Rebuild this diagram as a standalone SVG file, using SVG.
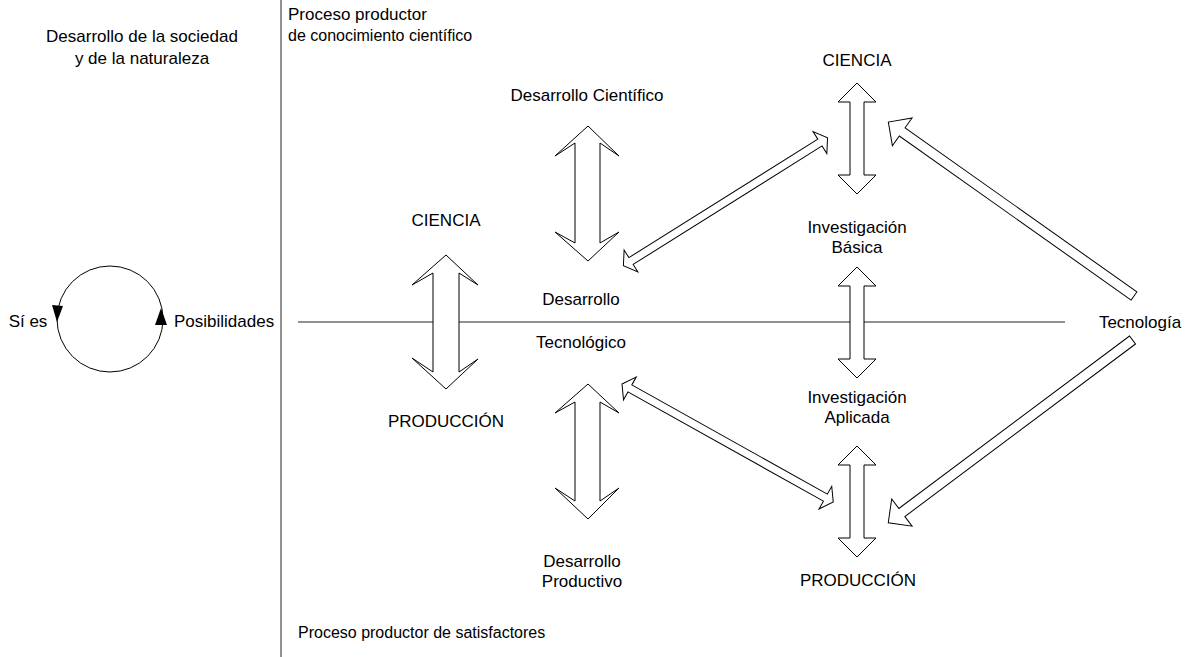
<svg xmlns="http://www.w3.org/2000/svg" width="1188" height="657" viewBox="0 0 1188 657">
<style>
text{font-family:"Liberation Sans",Arial,sans-serif;font-size:17px;fill:#000}
.s{font-size:16px}
.c{text-anchor:middle}
.blk{fill:#fff;stroke:#000;stroke-width:1;stroke-linejoin:miter}
.ln{stroke:#222;stroke-width:1;fill:none}
</style>
<rect width="1188" height="657" fill="#fff"/>
<g id="dividers">
<line class="ln" x1="281" y1="0" x2="281" y2="657"/>
<line class="ln" x1="298" y1="322" x2="1065" y2="322"/>
</g>
<g id="cycle">
<circle cx="110" cy="319" r="53" fill="none" stroke="#000" stroke-width="1"/>
<polygon points="52,305 63,306 57,322" fill="#000"/>
<polygon points="155,325 167,325 161,308" fill="#000"/>
<text x="28" y="327" class="c">Sí es</text>
<text x="174" y="327">Posibilidades</text>
</g>
<g id="labels">
<text x="142" y="42" class="c">Desarrollo de la sociedad</text>
<text x="142" y="64" class="c">y de la naturaleza</text>
<text x="288" y="20">Proceso productor</text>
<text x="288" y="41" class="s">de conocimiento científico</text>
<text x="298" y="638" class="s">Proceso productor de satisfactores</text>
</g>
<g id="node-ciencia-left"><text x="446" y="226" class="c">CIENCIA</text></g>
<g id="node-produccion-left"><text x="446" y="427" class="c">PRODUCCIÓN</text></g>
<g id="node-des-cientifico"><text x="587" y="101" class="c">Desarrollo Científico</text></g>
<g id="node-des-tecnologico"><text x="581" y="305" class="c">Desarrollo</text><text x="581" y="348" class="c">Tecnológico</text></g>
<g id="node-des-productivo"><text x="582" y="567" class="c">Desarrollo</text><text x="582" y="587" class="c">Productivo</text></g>
<g id="node-ciencia-right"><text x="857" y="66" class="c">CIENCIA</text></g>
<g id="node-inv-basica"><text x="857" y="233" class="c">Investigación</text><text x="857" y="253" class="c">Básica</text></g>
<g id="node-inv-aplicada"><text x="857" y="403" class="c">Investigación</text><text x="857" y="423" class="c">Aplicada</text></g>
<g id="node-produccion-right"><text x="858" y="586" class="c">PRODUCCIÓN</text></g>
<g id="node-tecnologia"><text x="1140" y="328" class="c">Tecnología</text></g>
<g id="connectors">
<path class="blk" d="M446,255 L478,285 L459,273 L459,372 L478,359 L446,389 L412,358 L433,372 L433,273 L412,285 Z"/>
<path class="blk" d="M588,126 L619,156 L600,143 L600,243 L619,232 L588,261 L555,232 L575,243 L575,143 L555,156 Z"/>
<path class="blk" d="M588,384 L619,413 L600,402 L600,501 L619,488 L588,519 L555,488 L575,501 L575,402 L555,413 Z"/>
<path class="blk" d="M857,83 L876,102 L864,102 L864,175 L876,175 L857,194 L838,175 L850,175 L850,102 L838,102 Z"/>
<path class="blk" d="M857,267 L876,286 L864,286 L864,359 L876,359 L857,378 L838,359 L850,359 L850,286 L838,286 Z"/>
<path class="blk" d="M857,446 L876,465 L864,465 L864,538 L876,538 L857,557 L838,538 L850,538 L850,465 L838,465 Z"/>
<path class="blk" transform="translate(623.4,265.8) rotate(-32.1)" d="M0,0 L9,-13 L9,-4 L232,-4 L232,-13 L241,0 L232,13 L232,4 L9,4 L9,13 Z"/>
<path class="blk" transform="translate(622,384) rotate(29.2)" d="M0,0 L9,-13 L9,-4 L233,-4 L233,-13 L242,0 L233,13 L233,4 L9,4 L9,13 Z"/>
<path class="blk" transform="translate(1134,296) rotate(215.3)" d="M0,-5 L284,-5 L284,-17 L301,0 L284,17 L284,5 L0,5 Z"/>
<path class="blk" transform="translate(1132.5,340) rotate(143.2)" d="M0,-5 L288,-5 L288,-17 L305,0 L288,17 L288,5 L0,5 Z"/>
</g>
</svg>
